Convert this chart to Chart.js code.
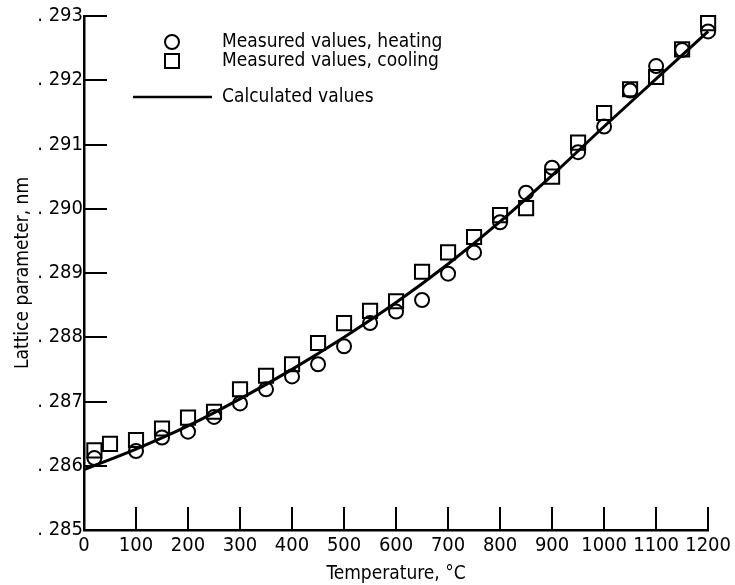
<!DOCTYPE html>
<html>
<head>
<meta charset="utf-8">
<script src="https://cdn.jsdelivr.net/npm/chart.js@4/dist/chart.umd.min.js"></script>
<style>
  html, body { margin: 0; padding: 0; background: #fff; }
  #wrap { width: 735px; height: 585px; }
</style>
</head>
<body>
<div id="wrap"><canvas id="latticeChart"></canvas></div>
<script>
const FONT_FAMILY = '"Liberation Sans Narrow", "DejaVu Sans Condensed", "Liberation Sans", sans-serif';

// temperatures, deg C
const HEAT_T = [20, 100, 150, 200, 250, 300, 350, 400, 450, 500, 550, 600,
                650, 700, 750, 800, 850, 900, 950, 1000, 1050, 1100, 1150, 1200];
const HEAT_A = [0.28612, 0.28623, 0.28644, 0.28653, 0.28676, 0.28697, 0.28719, 0.28739,
                0.28758, 0.28786, 0.28822, 0.28840, 0.28858, 0.28899, 0.28932, 0.28979,
                0.29025, 0.29064, 0.29088, 0.29128, 0.29184, 0.29222, 0.29247, 0.29276];

const COOL_T = [20, 50, 100, 150, 200, 250, 300, 350, 400, 450, 500, 550, 600,
                650, 700, 750, 800, 850, 900, 950, 1000, 1050, 1100, 1150, 1200];
const COOL_A = [0.28624, 0.28634, 0.28640, 0.28658, 0.28675, 0.28684, 0.28719, 0.28740,
                0.28758, 0.28791, 0.28822, 0.28841, 0.28856, 0.28902, 0.28932, 0.28956,
                0.28990, 0.29001, 0.29050, 0.29103, 0.29149, 0.29186, 0.29205, 0.29248, 0.29289];

const CALC_T = [0, 100, 200, 300, 400, 500, 600, 700, 800, 900, 1000, 1100, 1200];
const CALC_A = [0.28594, 0.28626, 0.28662, 0.28704, 0.28750, 0.28800, 0.28854,
                0.28914, 0.28980, 0.29052, 0.29128, 0.29202, 0.29276];

const LEGEND_LABELS = ["Measured values, heating", "Measured values, cooling", "Calculated values"];

const toPoints = (xs, ys) => xs.map((x, i) => ({ x, y: ys[i] }));

// tick marks pointing into the plot
const inwardTicks = {
  id: "inwardTicks",
  afterDatasetsDraw(chart){
    const { ctx, scales: { x, y } } = chart;
    ctx.save();
    ctx.strokeStyle = "#000";
    ctx.lineWidth = 2;
    ctx.beginPath();
    x.ticks.forEach(t => {
      const px = Math.round(x.getPixelForValue(t.value));
      ctx.moveTo(px, y.bottom);
      ctx.lineTo(px, y.bottom - 23);
    });
    y.ticks.forEach(t => {
      const py = Math.round(y.getPixelForValue(t.value));
      ctx.moveTo(x.left, py);
      ctx.lineTo(x.left + 23, py);
    });
    ctx.stroke();
    ctx.restore();
  }
};

// key in the upper left of the plot
const keyBox = {
  id: "keyBox",
  afterDraw(chart){
    const { ctx, chartArea } = chart;
    const sx = chartArea.left + 88;
    const tx = chartArea.left + 138;
    const rows = [chartArea.top + 26, chartArea.top + 45, chartArea.top + 81];
    ctx.save();
    ctx.strokeStyle = "#000";
    ctx.fillStyle = "#000";
    ctx.lineWidth = 2;

    ctx.beginPath();
    ctx.arc(sx, rows[0], 7, 0, Math.PI * 2);
    ctx.stroke();

    ctx.beginPath();
    ctx.rect(sx - 7, rows[1] - 7, 14, 14);
    ctx.stroke();

    ctx.lineWidth = 2.5;
    ctx.beginPath();
    ctx.moveTo(chartArea.left + 49, rows[2]);
    ctx.lineTo(chartArea.left + 128, rows[2]);
    ctx.stroke();

    ctx.font = "19px " + FONT_FAMILY;
    ctx.textBaseline = "middle";
    LEGEND_LABELS.forEach((txt, i) => ctx.fillText(txt, tx, rows[i]));
    ctx.restore();
  }
};

new Chart(document.getElementById("latticeChart"), {
  type: "scatter",
  data: {
    datasets: [
      {
        label: LEGEND_LABELS[0],
        data: toPoints(HEAT_T, HEAT_A),
        pointStyle: "circle",
        pointRadius: 7,
        borderColor: "#000",
        backgroundColor: "rgba(0,0,0,0)",
        borderWidth: 2,
        clip: false
      },
      {
        label: LEGEND_LABELS[1],
        data: toPoints(COOL_T, COOL_A),
        pointStyle: "rect",
        pointRadius: 10,
        borderColor: "#000",
        backgroundColor: "rgba(0,0,0,0)",
        borderWidth: 2,
        clip: false
      },
      {
        label: LEGEND_LABELS[2],
        data: toPoints(CALC_T, CALC_A),
        showLine: true,
        pointRadius: 0,
        borderColor: "#000",
        borderWidth: 3,
        cubicInterpolationMode: "monotone",
        clip: false
      }
    ]
  },
  options: {
    responsive: true,
    maintainAspectRatio: false,
    animation: false,
    layout: { padding: { top: 16, right: 20, left: 0, bottom: 0 } },
    plugins: {
      legend: { display: false },
      tooltip: { enabled: false }
    },
    scales: {
      x: {
        type: "linear",
        min: 0,
        max: 1200,
        afterFit(scale){ scale.height = 55; },
        ticks: {
          stepSize: 100,
          autoSkip: false,
          padding: 4,
          maxRotation: 0,
          color: "#000",
          font: { family: FONT_FAMILY, size: 20 },
          callback: v => String(v)
        },
        grid: { display: false, drawTicks: false },
        border: { display: true, color: "#000", width: 2.5 },
        title: {
          display: true,
          text: "Temperature, \u00B0C",
          color: "#000",
          padding: { top: 0, bottom: 0 },
          font: { family: FONT_FAMILY, size: 19 }
        }
      },
      y: {
        type: "linear",
        min: 0.285,
        max: 0.293,
        afterFit(scale){ scale.width = 84; },
        ticks: {
          stepSize: 0.001,
          autoSkip: false,
          padding: 1,
          color: "#000",
          font: { family: FONT_FAMILY, size: 20 },
          callback: v => ". " + Math.round(v * 1000)
        },
        grid: { display: false, drawTicks: false },
        border: { display: true, color: "#000", width: 2.5 },
        title: {
          display: true,
          text: "Lattice parameter, nm",
          color: "#000",
          padding: { top: 12, bottom: 0 },
          font: { family: FONT_FAMILY, size: 19 }
        }
      }
    }
  },
  plugins: [inwardTicks, keyBox]
});
</script>
</body>
</html>
